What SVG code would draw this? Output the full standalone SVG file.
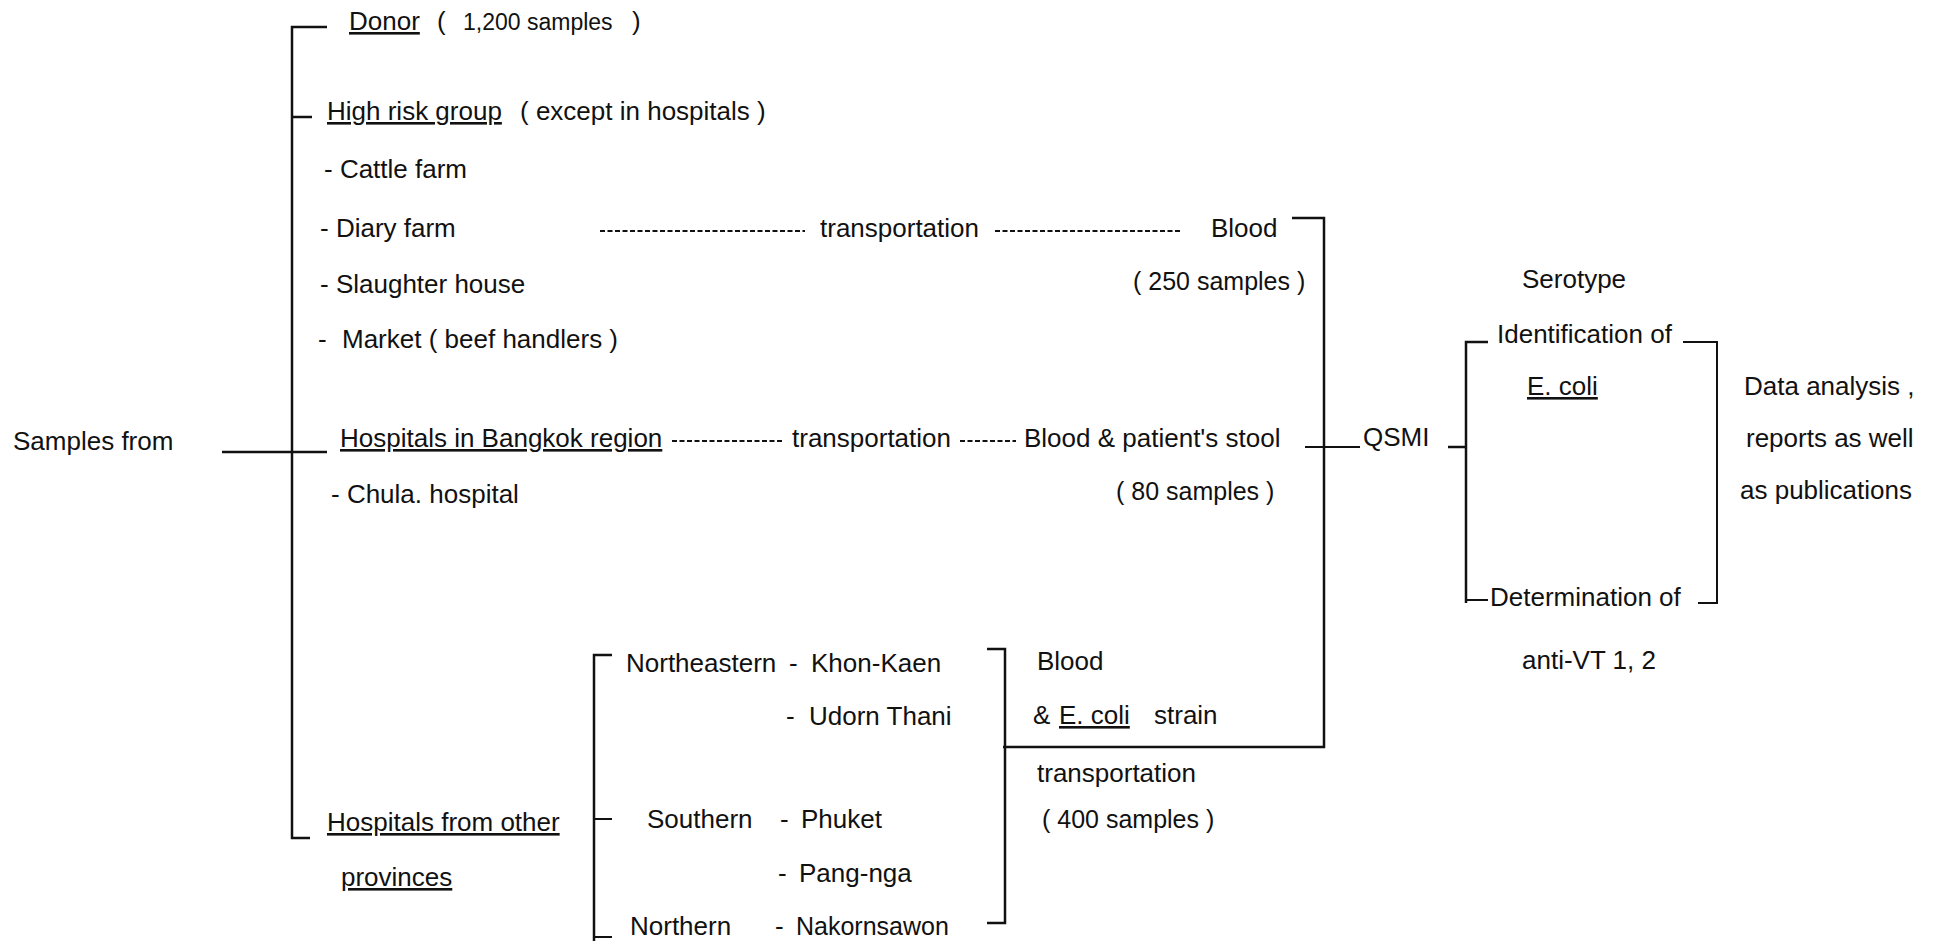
<svg xmlns="http://www.w3.org/2000/svg" width="1935" height="941" viewBox="0 0 1935 941">
<style>
text{font-family:"Liberation Sans",Arial,sans-serif;font-size:26px;fill:#111}
.u{text-decoration:underline}
.sm{font-size:23px}
.s25{font-size:25px}
.ln{stroke:#111;stroke-width:2.5;fill:none}
.th{stroke:#111;stroke-width:2;fill:none}
.dash{stroke:#111;stroke-width:1.8;stroke-dasharray:5 2.5;fill:none}
</style>
<rect width="1935" height="941" fill="#fff"/>
<g id="connectors">
<path class="ln" d="M327,27H292V838H310"/>
<path class="ln" d="M292,117H312"/>
<path class="ln" d="M222,452H327"/>
<path class="dash" d="M600,231H805M995,231H1180"/>
<path class="ln" d="M1292,218H1324V747H1003"/>
<path class="dash" d="M672,441H784M960,441H1016"/>
<path class="th" d="M1305,447H1360"/>
<path class="ln" d="M1448,447H1466"/>
<path class="ln" d="M1488,342H1466V603"/>
<path class="th" d="M1466,600H1488"/>
<path class="th" d="M1683,342H1717V603H1698"/>
<path class="ln" d="M612,655H594V941"/>
<path class="th" d="M594,819H612M594,937H612"/>
<path class="ln" d="M987,649H1005V923H987"/>
</g>
<g id="donor"><text x="349" y="30"><tspan class="u">Donor</tspan></text><text x="437" y="30">(</text><text x="463" y="30" class="sm">1,200 samples</text><text x="632" y="30">)</text></g>
<g id="highrisk"><text x="327" y="120"><tspan class="u">High risk group</tspan></text><text x="520" y="120">( except in hospitals )</text></g>
<g id="cattle"><text x="324" y="178">- Cattle farm</text></g>
<g id="diary"><text x="320" y="237">- Diary farm</text></g>
<g id="slaughter"><text x="320" y="293">- Slaughter house</text></g>
<g id="market"><text x="318" y="348">-</text><text x="342" y="348">Market ( beef handlers )</text></g>
<g id="samples-from"><text x="13" y="450">Samples from</text></g>
<g id="bangkok"><text x="340" y="447" class="u">Hospitals in Bangkok region</text></g>
<g id="chula"><text x="331" y="503">- Chula. hospital</text></g>
<g id="other-prov"><text x="327" y="831" class="u">Hospitals from other</text><text x="341" y="886" class="u">provinces</text></g>
<g id="transport1"><text x="820" y="237">transportation</text></g>
<g id="blood1"><text x="1211" y="237">Blood</text><text x="1133" y="290" class="s25">( 250 samples )</text></g>
<g id="transport2"><text x="792" y="447">transportation</text></g>
<g id="blood2"><text x="1024" y="447">Blood &amp; patient's stool</text><text x="1116" y="500" class="s25">( 80 samples )</text></g>
<g id="qsmi"><text x="1363" y="446">QSMI</text></g>
<g id="northeastern"><text x="626" y="672">Northeastern</text><text x="789" y="672">-</text><text x="811" y="672">Khon-Kaen</text><text x="786" y="725">-</text><text x="809" y="725">Udorn Thani</text></g>
<g id="southern"><text x="647" y="828">Southern</text><text x="780" y="828">-</text><text x="801" y="828">Phuket</text><text x="778" y="882">-</text><text x="799" y="882">Pang-nga</text></g>
<g id="northern"><text x="630" y="935">Northern</text><text x="775" y="935">-</text><text x="796" y="935" class="s25">Nakornsawon</text></g>
<g id="blood3"><text x="1037" y="670">Blood</text><text x="1033" y="724">&amp;</text><text x="1059" y="724" class="u">E. coli</text><text x="1154" y="724">strain</text><text x="1037" y="782">transportation</text><text x="1042" y="828" class="s25">( 400 samples )</text></g>
<g id="serotype"><text x="1522" y="288">Serotype</text><text x="1497" y="343">Identification of</text><text x="1527" y="395" class="u">E. coli</text></g>
<g id="determination"><text x="1490" y="606">Determination of</text><text x="1522" y="669">anti-VT 1, 2</text></g>
<g id="analysis"><text x="1744" y="395">Data analysis ,</text><text x="1746" y="447">reports as well</text><text x="1740" y="499">as publications</text></g>
</svg>
